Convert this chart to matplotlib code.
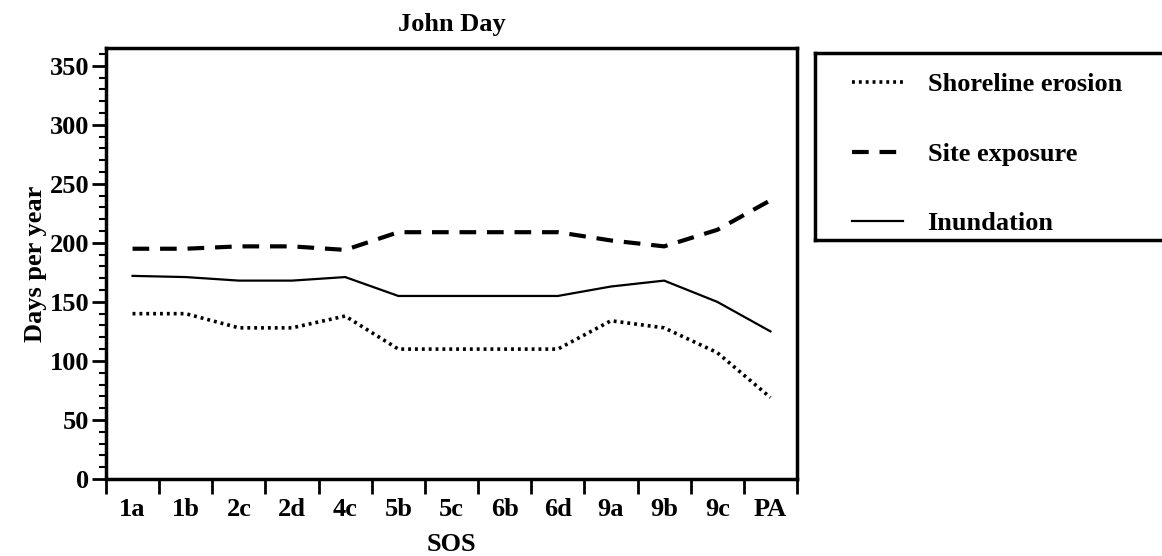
import numpy as np
import matplotlib as mpl
import matplotlib.pyplot as plt
from matplotlib.ticker import MultipleLocator, FixedLocator, NullFormatter

mpl.rcParams.update({
    "font.family": ["Liberation Serif", "DejaVu Serif"],
    "font.weight": "bold",
    "axes.labelweight": "bold",
    "axes.titleweight": "bold",
})

# ------------ Data ------------
SITES = ["1a", "1b", "2c", "2d", "4c", "5b", "5c", "6b", "6d", "9a", "9b", "9c", "PA"]
shoreline_erosion = [140, 140, 128, 128, 138, 110, 110, 110, 110, 134, 128, 107, 69]
site_exposure     = [195, 195, 197, 197, 194, 209, 209, 209, 209, 202, 197, 211, 236]
inundation        = [172, 171, 168, 168, 171, 155, 155, 155, 155, 163, 168, 150, 125]

fig = plt.figure(figsize=(11.62, 5.56), dpi=100)
ax = fig.add_axes([0.0912, 0.1385, 0.5947, 0.7752])

x = np.arange(len(SITES)) + 0.5
ax.plot(x, shoreline_erosion, color="black", lw=2.6, linestyle=(0, (0.8, 1.1)),
        label="Shoreline erosion")
ax.plot(x, site_exposure, color="black", lw=3.0, linestyle=(0, (4, 2.6)),
        label="Site exposure")
ax.plot(x, inundation, color="black", lw=1.6, linestyle="-",
        label="Inundation")

ax.set_xlim(0, len(SITES))
ax.set_ylim(0, 365)

# x: major ticks at the cell borders, labels centred between them
ax.xaxis.set_major_locator(FixedLocator(np.arange(len(SITES) + 1)))
ax.xaxis.set_major_formatter(NullFormatter())
ax.xaxis.set_minor_locator(FixedLocator(x))
ax.set_xticklabels(SITES, minor=True)
ax.tick_params(axis="x", which="major", direction="out", length=11, width=2)
ax.tick_params(axis="x", which="minor", length=0, pad=14, labelsize=19)

# y: majors every 50, minors every 10
ax.yaxis.set_major_locator(MultipleLocator(50))
ax.yaxis.set_minor_locator(MultipleLocator(10))
ax.tick_params(axis="y", which="major", direction="out", length=10, width=2,
               labelsize=19, pad=2)
ax.tick_params(axis="y", which="minor", direction="out", length=5, width=1.5)

for s in ax.spines.values():
    s.set_linewidth(2.5)

ax.set_xlabel("SOS", fontsize=19, labelpad=8)
ax.set_ylabel("Days per year", fontsize=19, labelpad=2)
ax.set_title("John Day", fontsize=19, pad=12)

# legend in its own thick box on the right
lax = fig.add_axes([0.701, 0.568, 0.31, 0.337])
lax.set_xticks([]); lax.set_yticks([])
for s in lax.spines.values():
    s.set_linewidth(2.5)
handles, labels = ax.get_legend_handles_labels()
lax.legend(handles, labels, loc="center left", bbox_to_anchor=(0.105, 0.46),
           frameon=False, fontsize=19, borderpad=0, borderaxespad=0,
           handlelength=1.9, handletextpad=0.95, labelspacing=1.75)

fig.savefig("out.png", dpi=100)
